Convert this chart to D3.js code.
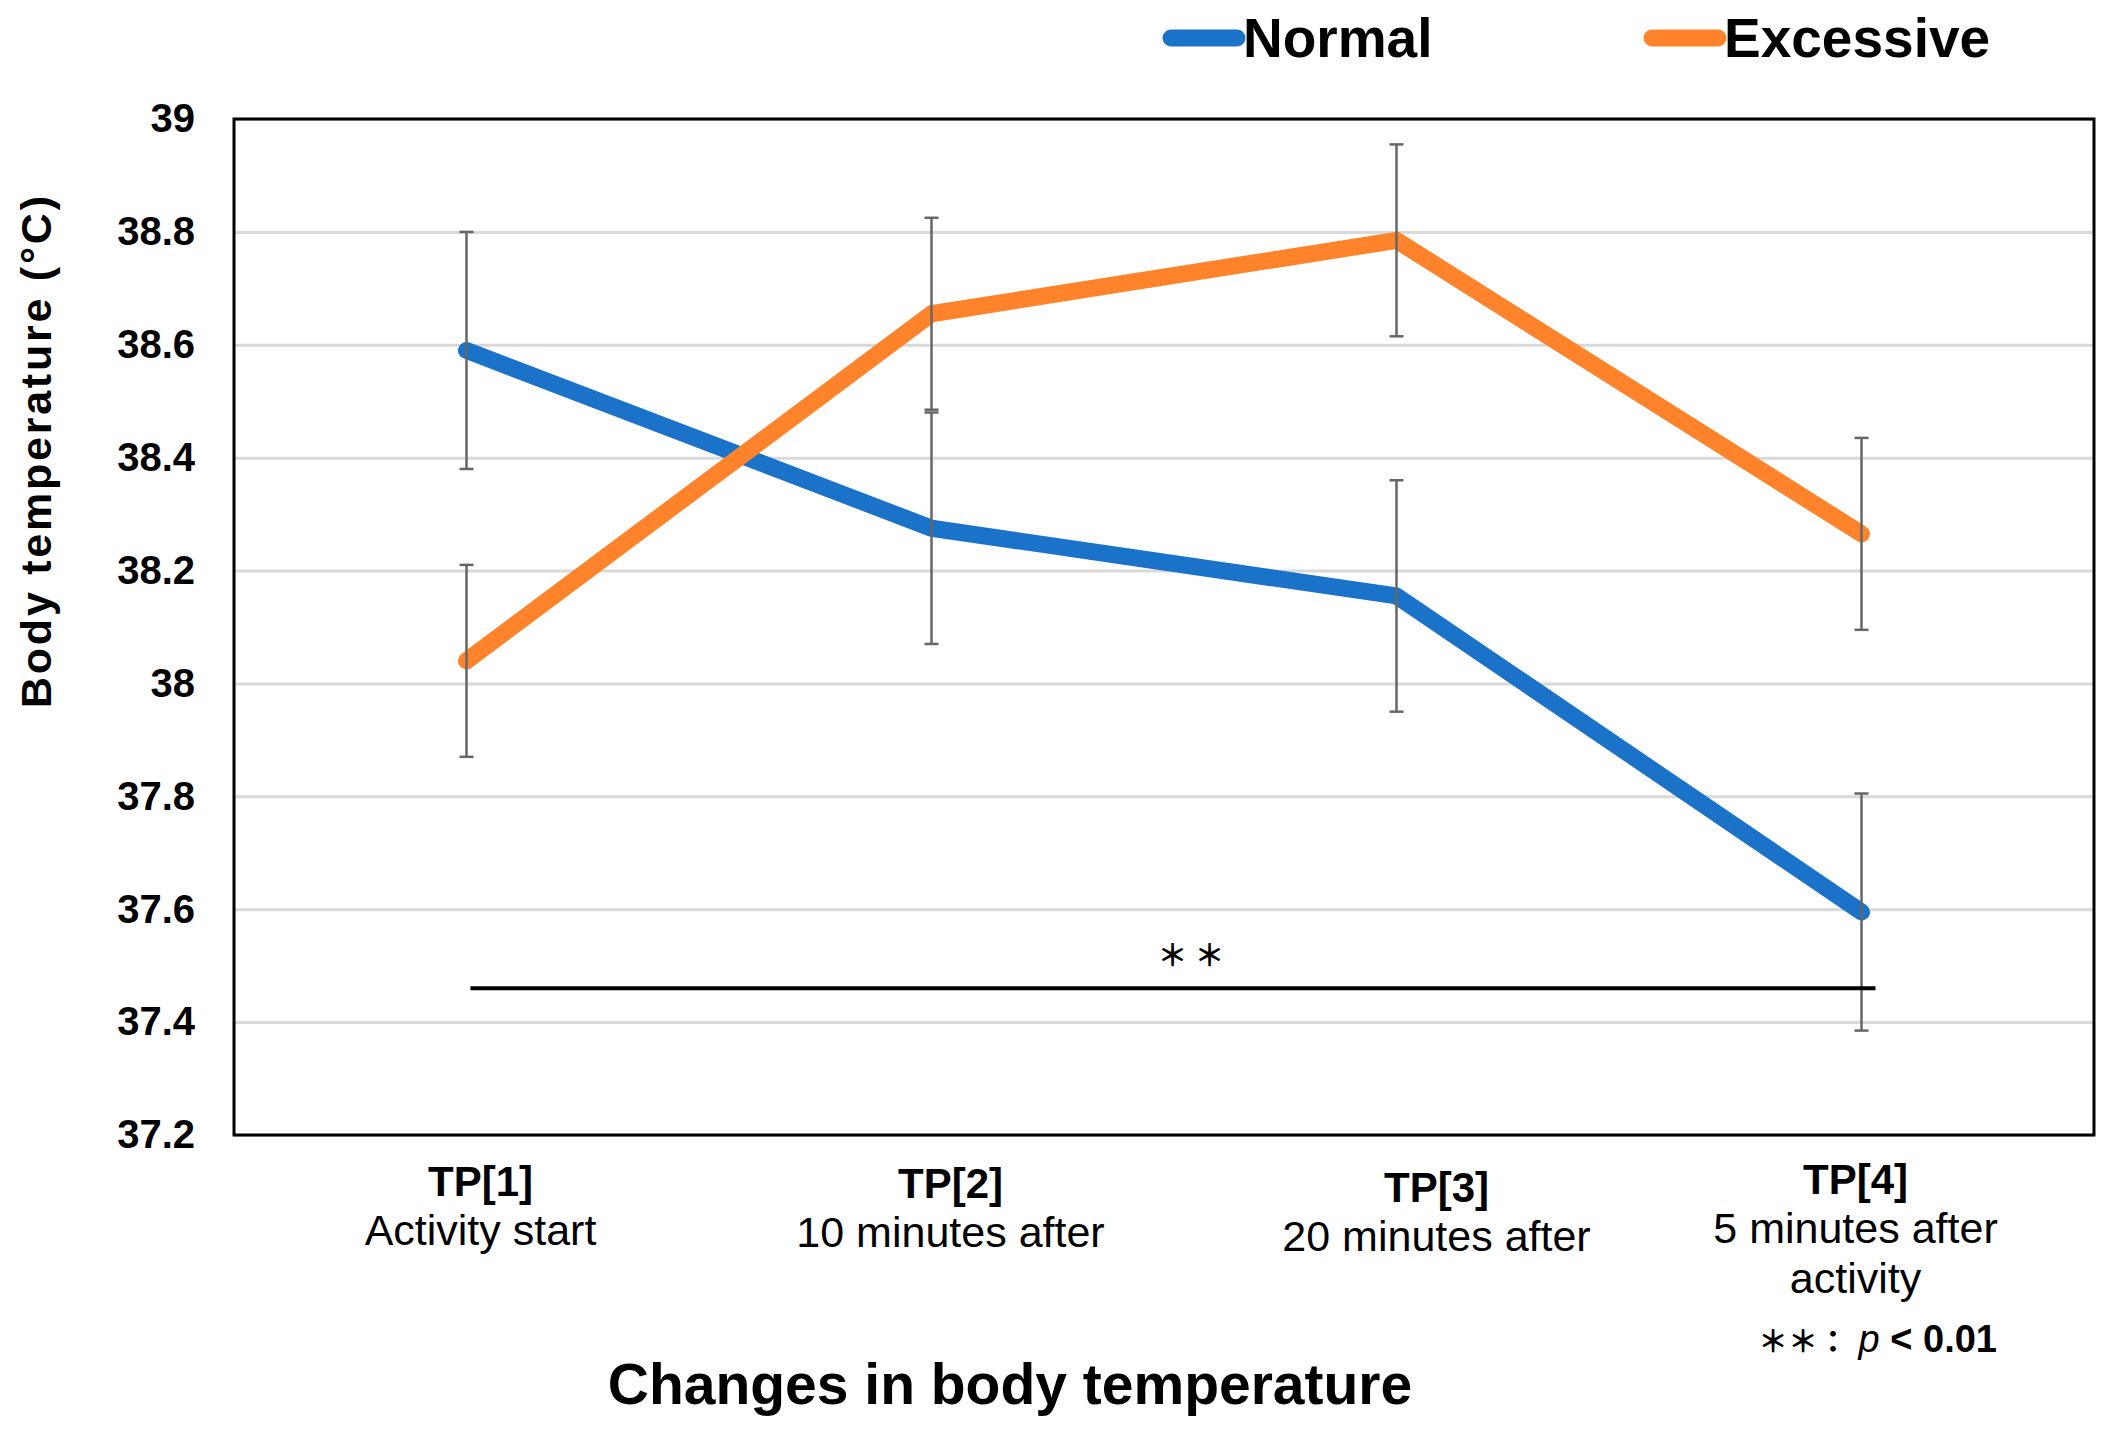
<!DOCTYPE html>
<html>
<head>
<meta charset="utf-8">
<script src="https://cdn.jsdelivr.net/npm/d3@7"></script>
<style>
  body { margin: 0; background: #fff; }
  text { font-family: "Liberation Sans", Arial, sans-serif; fill: #000; }
</style>
</head>
<body>
<div id="chart"></div>
<script>
/* DATA */
const timePoints = ["TP[1]", "TP[2]", "TP[3]", "TP[4]"];
const timeNotes = [["Activity start"], ["10 minutes after"], ["20 minutes after"], ["5 minutes after", "activity"]];
const normalMean = [38.59, 38.275, 38.155, 37.595];
const normalErr = [0.21, 0.205, 0.205, 0.21];
const excessiveMean = [38.04, 38.655, 38.785, 38.265];
const excessiveErr = [0.17, 0.17, 0.17, 0.17];
const yTicks = [37.2, 37.4, 37.6, 37.8, 38, 38.2, 38.4, 38.6, 38.8, 39];
const sigLevel = 37.46;

/* CONSTANTS */
const width = 2113,
  height = 1429,
  margin = { top: 119, right: 19, bottom: 294, left: 234 };

// hand placement of the category labels (they are not centred on the ticks)
const labelDx = [14, 19, 40, -6];
const labelDy = [-4, -2, 2, -6];

const colors = { Normal: "#1a73c9", Excessive: "#fe832a" };

const series = [
  { name: "Normal", mean: normalMean, err: normalErr },
  { name: "Excessive", mean: excessiveMean, err: excessiveErr }
];

const svg = d3.select("#chart")
  .append("svg")
  .attr("width", width)
  .attr("height", height);

// scales
const xScale = d3.scaleBand()
  .domain(timePoints)
  .range([margin.left, width - margin.right])
  .padding(0);

const xc = d => xScale(d) + xScale.bandwidth() / 2;

const yScale = d3.scaleLinear()
  .domain([37.2, 39])
  .range([height - margin.bottom, margin.top]);

// gridlines
svg.append("g")
  .attr("class", "grid")
  .attr("transform", `translate(${margin.left},0)`)
  .call(d3.axisLeft(yScale).tickValues(yTicks).tickSize(-(width - margin.left - margin.right)).tickFormat(""))
  .call(g => g.select(".domain").remove())
  .call(g => g.selectAll("line").attr("stroke", "#d9d9d9").attr("stroke-width", 3));

// y axis labels
svg.append("g")
  .attr("transform", `translate(${margin.left},0)`)
  .call(d3.axisLeft(yScale).tickValues(yTicks).tickSize(0).tickPadding(39).tickFormat(d3.format("")))
  .call(g => g.select(".domain").remove())
  .call(g => g.selectAll("text")
    .style("font-family", "'Liberation Sans', Arial, sans-serif")
    .attr("font-size", 40)
    .attr("font-weight", "bold")
    .attr("fill", "#000"));

// y title
svg.append("text")
  .attr("transform", `translate(51,452) rotate(-90)`)
  .attr("text-anchor", "middle")
  .attr("font-size", 43)
  .attr("font-weight", "bold")
  .attr("textLength", 512)
  .attr("lengthAdjust", "spacing")
  .text("Body temperature (°C)");

// lines
const line = d3.line()
  .x((d, i) => xc(timePoints[i]))
  .y(d => yScale(d));

svg.selectAll(".series")
  .data(series)
  .join("path")
  .attr("class", "series")
  .attr("d", d => line(d.mean))
  .attr("fill", "none")
  .attr("stroke", d => colors[d.name])
  .attr("stroke-width", 17)
  .attr("stroke-linecap", "round")
  .attr("stroke-linejoin", "round");

// error bars
const bars = series.flatMap(s => s.mean.map((m, i) => ({ tp: timePoints[i], lo: m - s.err[i], hi: m + s.err[i] })));
const eb = svg.append("g").attr("stroke", "#666").attr("stroke-width", 2.5);
eb.selectAll(".stem").data(bars).join("line")
  .attr("x1", d => xc(d.tp)).attr("x2", d => xc(d.tp))
  .attr("y1", d => yScale(d.lo)).attr("y2", d => yScale(d.hi));
eb.selectAll(".cap").data(bars.flatMap(d => [[d.tp, d.lo], [d.tp, d.hi]])).join("line")
  .attr("x1", d => xc(d[0]) - 7).attr("x2", d => xc(d[0]) + 7)
  .attr("y1", d => yScale(d[1])).attr("y2", d => yScale(d[1]));

// significance bracket
const sx1 = xc(timePoints[0]) + 4, sx2 = xc(timePoints[3]) + 14;
svg.append("line")
  .attr("x1", sx1).attr("x2", sx2)
  .attr("y1", yScale(sigLevel)).attr("y2", yScale(sigLevel))
  .attr("stroke", "#000").attr("stroke-width", 4);
svg.append("text")
  .attr("x", (sx1 + sx2) / 2 + 18)
  .attr("y", yScale(sigLevel) - 22)
  .attr("text-anchor", "middle")
  .attr("font-size", 30)
  .attr("font-weight", "bold")
  .style("font-family", "'Noto Sans CJK JP', sans-serif")
  .text("＊ ＊");

// plot frame
svg.append("rect")
  .attr("x", margin.left).attr("y", margin.top)
  .attr("width", width - margin.left - margin.right)
  .attr("height", height - margin.top - margin.bottom)
  .attr("fill", "none").attr("stroke", "#000").attr("stroke-width", 3);

// x labels
const xl = svg.append("g").selectAll("g").data(timePoints).join("g")
  .attr("transform", (d, i) => `translate(${xc(d) + labelDx[i]},${1200 + labelDy[i]})`)
  .attr("text-anchor", "middle");
xl.append("text")
  .attr("font-size", 42).attr("font-weight", "bold")
  .text(d => d);
xl.each(function (d, i) {
  d3.select(this).selectAll(".note").data(timeNotes[i]).join("text")
    .attr("class", "note")
    .attr("y", (t, j) => 49 + j * 50)
    .attr("font-size", 43)
    .text(t => t);
});

// p-value note
const pn = svg.append("text")
  .attr("x", xc(timePoints[3]) + 16)
  .attr("y", 1352)
  .attr("text-anchor", "middle")
  .attr("font-size", 38);
pn.append("tspan").attr("font-size", 30).attr("font-weight", "bold")
  .style("font-family", "'Noto Sans CJK JP', sans-serif").text("＊＊：");
pn.append("tspan").attr("font-style", "italic").text(" p");
pn.append("tspan").attr("font-weight", "bold").text(" < 0.01");

// x title
svg.append("text")
  .attr("x", 1010).attr("y", 1404)
  .attr("text-anchor", "middle")
  .attr("font-size", 57).attr("font-weight", "bold")
  .text("Changes in body temperature");

// legend
const legendPos = [1171, 1652];
const lg = svg.selectAll(".legend").data(series).join("g")
  .attr("class", "legend")
  .attr("transform", (d, i) => `translate(${legendPos[i]},38)`);
lg.append("line")
  .attr("x1", 0).attr("x2", 66)
  .attr("stroke", d => colors[d.name])
  .attr("stroke-width", 17).attr("stroke-linecap", "round");
lg.append("text")
  .attr("x", 72).attr("y", 19)
  .attr("font-size", 55).attr("font-weight", "bold")
  .text(d => d.name);
</script>
</body>
</html>
